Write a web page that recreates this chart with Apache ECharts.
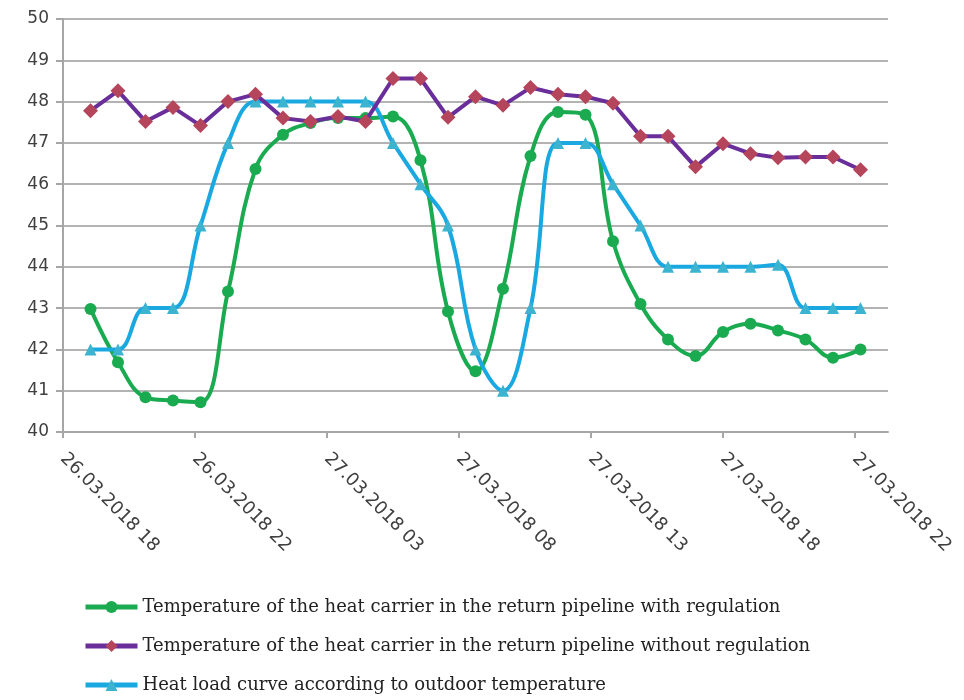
<!DOCTYPE html>
<html>
<head>
<meta charset="utf-8">
<script src="https://cdn.jsdelivr.net/npm/echarts@6/dist/echarts.min.js"></script>
<style>
  html, body { margin: 0; padding: 0; background: #fff; }
  #chart { width: 964px; height: 700px; }
</style>
</head>
<body>
<div id="chart"></div>
<script>
// hours counted from 26.03.2018 00:00
const hours = [18, 19, 20, 21, 22, 23, 24, 25, 26, 27, 28, 29, 30, 31, 32,
  33, 34, 35, 36, 37, 38, 39, 40, 41, 42, 43, 44, 45, 46]

const withRegulation = [42.98, 41.69, 40.84, 40.76, 40.72, 43.4, 46.37, 47.2, 47.48, 47.6, 47.6,
  47.64, 46.58, 42.92, 41.47, 43.47, 46.68, 47.75, 47.68, 44.62, 43.1, 42.24, 41.84, 42.42,
  42.62, 42.46, 42.24, 41.8, 42.0]

const withoutRegulation = [47.78, 48.26, 47.52, 47.86, 47.42, 48.0, 48.18, 47.6, 47.52, 47.64, 47.52,
  48.56, 48.56, 47.62, 48.12, 47.91, 48.34, 48.18, 48.12, 47.96, 47.16, 47.16, 46.42, 46.98,
  46.74, 46.64, 46.66, 46.66, 46.35]

const heatLoad = [42, 42, 43, 43, 45, 47, 48, 48, 48, 48, 48, 47, 46, 45, 42, 41, 43, 47, 47,
  46, 45, 44, 44, 44, 44, 44.05, 43, 43, 43]

const tickHours = [17, 21.8, 26.6, 31.4, 36.2, 41, 45.8]
const tickLabels = ['26.03.2018 18', '26.03.2018 22', '27.03.2018 03', '27.03.2018 08',
  '27.03.2018 13', '27.03.2018 18', '27.03.2018 22']

const seriesNames = [
  'Temperature of the heat carrier in the return pipeline with regulation',
  'Temperature of the heat carrier in the return pipeline without regulation',
  'Heat load curve according to outdoor temperature'
]

const pairs = values => values.map((v, i) => [hours[i], v])

const chart = echarts.init(document.getElementById('chart'))

const option = {
  animation: false,
  backgroundColor: '#fff',
  grid: { left: 63, right: 76, top: 19, bottom: 268, containLabel: false },
  legend: {
    orient: 'vertical',
    left: 78,
    top: 593,
    itemWidth: 52,
    itemHeight: 15,
    itemGap: 21,
    lineStyle: { width: 5 },
    textStyle: { fontFamily: 'DejaVu Serif', fontSize: 18, color: '#222' },
    data: seriesNames
  },
  xAxis: {
    type: 'value',
    min: 17,
    max: 47,
    axisLine: { show: true, lineStyle: { color: '#a6a6a6', width: 2 } },
    axisTick: { show: true, length: 6, lineStyle: { color: '#a6a6a6', width: 2 }, customValues: tickHours },
    splitLine: { show: false },
    axisLabel: {
      customValues: tickHours,
      rotate: -45,
      margin: 24,
      fontFamily: 'DejaVu Sans',
      fontSize: 18,
      color: '#404040',
      formatter: v => {
        const i = tickHours.findIndex(t => Math.abs(t - v) < 0.01)
        return i >= 0 ? tickLabels[i] : ''
      }
    }
  },
  yAxis: {
    type: 'value',
    min: 40,
    max: 50,
    interval: 1,
    axisLine: { show: true, lineStyle: { color: '#a6a6a6', width: 2 } },
    axisTick: { show: true, length: 7, lineStyle: { color: '#a6a6a6', width: 2 } },
    splitLine: { lineStyle: { color: '#b3b3b3', width: 2 } },
    axisLabel: { fontFamily: 'DejaVu Sans', fontSize: 17, color: '#404040', margin: 14 }
  },
  series: [
    {
      name: seriesNames[0],
      type: 'line',
      smooth: 0.4,
      data: pairs(withRegulation),
      z: 2,
      symbol: 'circle',
      symbolSize: 12,
      lineStyle: { color: '#1aaa50', width: 4 },
      itemStyle: { color: '#1aaa50' }
    },
    {
      name: seriesNames[1],
      type: 'line',
      data: pairs(withoutRegulation),
      z: 4,
      symbol: 'diamond',
      symbolSize: 15,
      lineStyle: { color: '#6a2e9a', width: 4 },
      itemStyle: { color: '#b5455a' }
    },
    {
      name: seriesNames[2],
      type: 'line',
      smooth: 0.4,
      data: pairs(heatLoad),
      z: 3,
      symbol: 'triangle',
      symbolSize: 12,
      lineStyle: { color: '#1aa8e0', width: 4 },
      itemStyle: { color: '#3cb4d0' }
    }
  ]
}

chart.setOption(option)
</script>
</body>
</html>
